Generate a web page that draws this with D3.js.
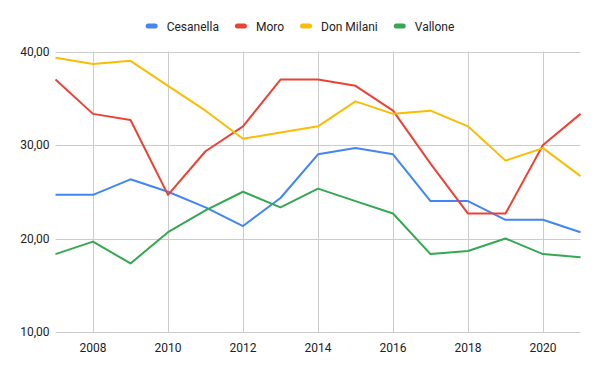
<!DOCTYPE html>
<html>
<head>
<meta charset="utf-8">
<script src="https://cdn.jsdelivr.net/npm/d3@7"></script>
<style>
  body { margin: 0; background: #fff; }
  svg { display: block; font-family: Roboto, Arial, sans-serif; }
</style>
</head>
<body>
<svg id="chart" width="600" height="371"></svg>
<script>
var years = [2007, 2008, 2009, 2010, 2011, 2012, 2013, 2014, 2015, 2016, 2017, 2018, 2019, 2020, 2021];
var seriesNames = ["Cesanella", "Moro", "Don Milani", "Vallone"];
var cesanella = [24.67, 24.67, 26.33, 25.0, 23.33, 21.33, 24.33, 29.0, 29.67, 29.0, 24.0, 24.0, 22.0, 22.0, 20.67];
var moro = [37.0, 33.33, 32.67, 24.67, 29.33, 32.0, 37.0, 37.0, 36.33, 33.67, 28.0, 22.67, 22.67, 30.0, 33.33];
var donMilani = [39.33, 38.67, 39.0, 36.33, 33.67, 30.67, 31.33, 32.0, 34.67, 33.33, 33.67, 32.0, 28.33, 29.67, 26.67];
var vallone = [18.33, 19.67, 17.33, 20.67, 23.0, 25.0, 23.33, 25.33, 24.0, 22.67, 18.33, 18.67, 20.0, 18.33, 18.0];
var yTicks = [10, 20, 30, 40];
var xTicks = [2008, 2010, 2012, 2014, 2016, 2018, 2020];
var colors = ["#4285f4", "#ea4335", "#fbbc04", "#34a853"];

var margin = {top: 51.5, left: 55.5, bottom: 39, right: 19.5};
var width = 600, height = 371;
var svg = d3.select("#chart");

var xScale = d3.scaleLinear()
  .domain([2007, 2021])
  .range([margin.left, width - margin.right]);
var yScale = d3.scaleLinear()
  .domain([10, 40])
  .range([height - margin.bottom, margin.top]);

/* grid lines */
svg.append("g").selectAll("line")
  .data(yTicks)
  .enter().append("line")
    .attr("x1", margin.left)
    .attr("x2", width - margin.right)
    .attr("y1", (d) => Math.round(yScale(d)) + 0.5)
    .attr("y2", (d) => Math.round(yScale(d)) + 0.5)
    .attr("stroke", "#cccccc")
    .attr("stroke-width", 1);
svg.append("g").selectAll("line")
  .data(xTicks)
  .enter().append("line")
    .attr("x1", (d) => Math.round(xScale(d)) + 0.5)
    .attr("x2", (d) => Math.round(xScale(d)) + 0.5)
    .attr("y1", margin.top)
    .attr("y2", height - margin.bottom)
    .attr("stroke", "#cccccc")
    .attr("stroke-width", 1);

/* axis labels */
svg.append("g").selectAll("text")
  .data(yTicks)
  .enter().append("text")
    .attr("x", margin.left - 6)
    .attr("y", (d) => yScale(d))
    .attr("dy", "0.35em")
    .attr("text-anchor", "end")
    .style("font-size", "12px")
    .style("fill", "#222222")
    .text((d) => d3.format(".2f")(d).replace(".", ","));
svg.append("g").selectAll("text")
  .data(xTicks)
  .enter().append("text")
    .attr("x", (d) => xScale(d))
    .attr("y", height - margin.bottom + 20)
    .attr("text-anchor", "middle")
    .style("font-size", "12px")
    .style("fill", "#222222")
    .text((d) => d);

/* lines */
var seriesData = [cesanella, moro, donMilani, vallone];
var line = d3.line()
  .x((d, i) => xScale(years[i]))
  .y((d) => yScale(d));
svg.append("g").selectAll("path")
  .data(seriesData)
  .enter().append("path")
    .attr("d", line)
    .attr("fill", "none")
    .attr("stroke", (d, i) => colors[i])
    .attr("stroke-width", 2)
    .attr("stroke-linejoin", "round");

/* legend */
var legend = svg.append("g");
var items = legend.selectAll("g")
  .data(seriesNames)
  .enter().append("g");
items.append("rect")
  .attr("y", 23.5)
  .attr("width", 12)
  .attr("height", 5)
  .attr("rx", 2.5)
  .attr("fill", (d, i) => colors[i]);
items.append("text")
  .attr("x", 21)
  .attr("y", 30.5)
  .style("font-size", "12px")
  .style("fill", "#222222")
  .text((d) => d);
var pos = 0;
var offsets = [];
items.each(function () {
  offsets.push(pos);
  var w = d3.select(this).select("text").node().getComputedTextLength();
  pos += 21 + w + 16;
});
var total = pos - 16;
var start = width / 2 - total / 2;
items.attr("transform", (d, i) => "translate(" + (start + offsets[i]) + ",0)");
</script>
</body>
</html>
